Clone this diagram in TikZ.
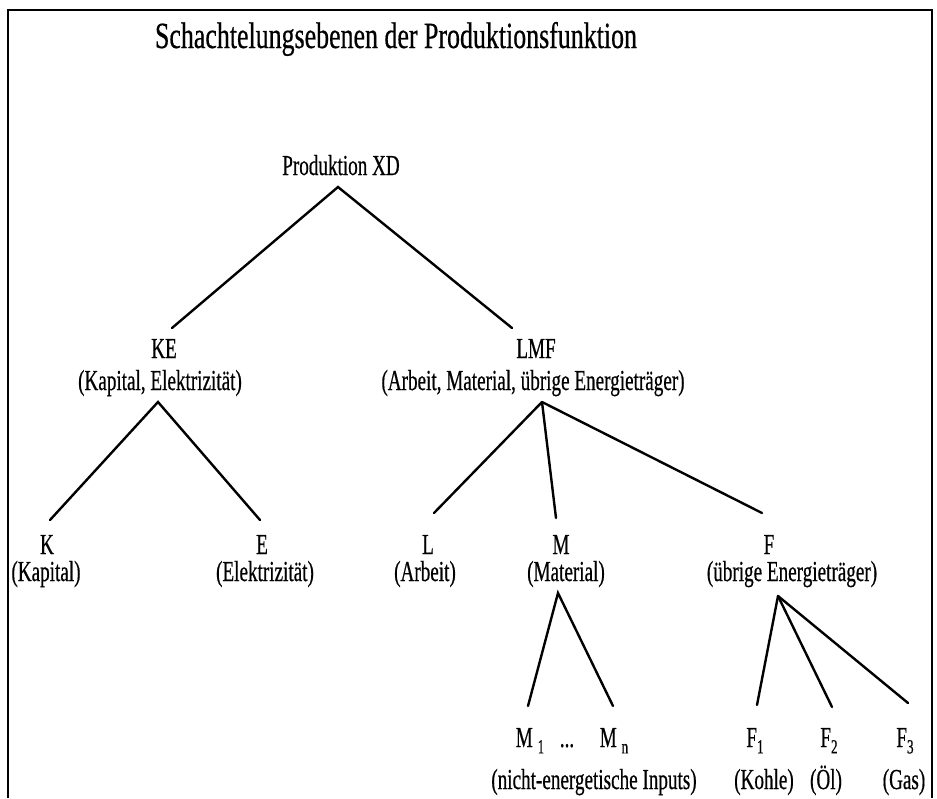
\documentclass[tikz,border=0pt]{standalone}
\usepackage{fontspec}
\setmainfont[FakeStretch=0.66,FakeBold=0.5]{Liberation Serif}
\newfontfamily\ttlfont[FakeStretch=0.70,FakeBold=0.5]{Liberation Serif}
\newcommand{\subidx}[1]{\raisebox{-0.22em}{\fontsize{20}{22}\selectfont #1}}
\begin{document}
\begin{tikzpicture}[x=1pt,y=-1pt,
  lbl/.style={inner sep=0pt, anchor=base, font=\fontsize{29}{31}\selectfont},
  ttl/.style={inner sep=0pt, anchor=base, font=\ttlfont\fontsize{37}{40}\selectfont},
  br/.style={line width=2.4pt, line cap=round},
  frm/.style={line width=2.2pt}]
\useasboundingbox (0,0) rectangle (937,798);
% frame
\coordinate (fbl) at (8,798);
\coordinate (ftl) at (8,10);
\coordinate (ftr) at (932,10);
\coordinate (fbr) at (932,798);
\draw[frm] (fbl) -- (ftl) -- (ftr) -- (fbr);
% title
\node[ttl] (title) at (396,48) {Schachtelungsebenen der Produktionsfunktion};
% level 0
\node[lbl] (prod) at (341,175) {Produktion XD};
\coordinate (prodA) at (338,187);
% level 1
\node[lbl] (ke) at (164,358) {KE};
\node[lbl] (kes) at (160,390) {(Kapital, Elektrizität)};
\node[lbl] (lmf) at (536,358) {LMF};
\node[lbl] (lmfs) at (533,390) {(Arbeit, Material, übrige Energieträger)};
\coordinate (keT) at (172,328);
\coordinate (lmfT) at (512,328);
\coordinate (keA) at (158,402);
\coordinate (lmfA) at (542,402);
% level 2
\node[lbl] (k) at (47,554) {K};
\node[lbl] (ks) at (46,581) {(Kapital)};
\node[lbl] (e) at (262,554) {E};
\node[lbl] (es) at (265,581) {(Elektrizität)};
\node[lbl] (l) at (428,554) {L};
\node[lbl] (ls) at (425,581) {(Arbeit)};
\node[lbl] (m) at (561,554) {M};
\node[lbl] (ms) at (566,581) {(Material)};
\node[lbl] (f) at (769,554) {F};
\node[lbl] (fs) at (792,581) {(übrige Energieträger)};
\coordinate (kT) at (50,520);
\coordinate (eT) at (260,520);
\coordinate (lT) at (434,513);
\coordinate (mT) at (556,518);
\coordinate (fT) at (762,513);
\coordinate (mA) at (558,593);
\coordinate (fA) at (778,596);
% level 3
\node[lbl] (m1) at (530,747) {M\,\subidx{1}};
\node[lbl] (dots) at (567,747) {...};
\node[lbl] (mn) at (614,747) {M\,\subidx{n}};
\node[lbl] (ns) at (594,789) {(nicht-energetische Inputs)};
\node[lbl] (f1) at (755,747) {F\subidx{1}};
\node[lbl] (f2) at (829,747) {F\subidx{2}};
\node[lbl] (f3) at (905,747) {F\subidx{3}};
\node[lbl] (f1s) at (764,789) {(Kohle)};
\node[lbl] (f2s) at (826,789) {(Öl)};
\node[lbl] (f3s) at (904,789) {(Gas)};
\coordinate (m1T) at (528,706);
\coordinate (mnT) at (613,706);
\coordinate (f1T) at (757,705);
\coordinate (f2T) at (832,707);
\coordinate (f3T) at (908,703);
% connectors
\draw[br] (keT) -- (prodA) -- (lmfT);
\draw[br] (kT) -- (keA) -- (eT);
\draw[br] (lmfA) -- (lT);
\draw[br] (lmfA) -- (mT);
\draw[br] (lmfA) -- (fT);
\draw[br] (m1T) -- (mA) -- (mnT);
\draw[br] (fA) -- (f1T);
\draw[br] (fA) -- (f2T);
\draw[br] (fA) -- (f3T);
\end{tikzpicture}
\end{document}
